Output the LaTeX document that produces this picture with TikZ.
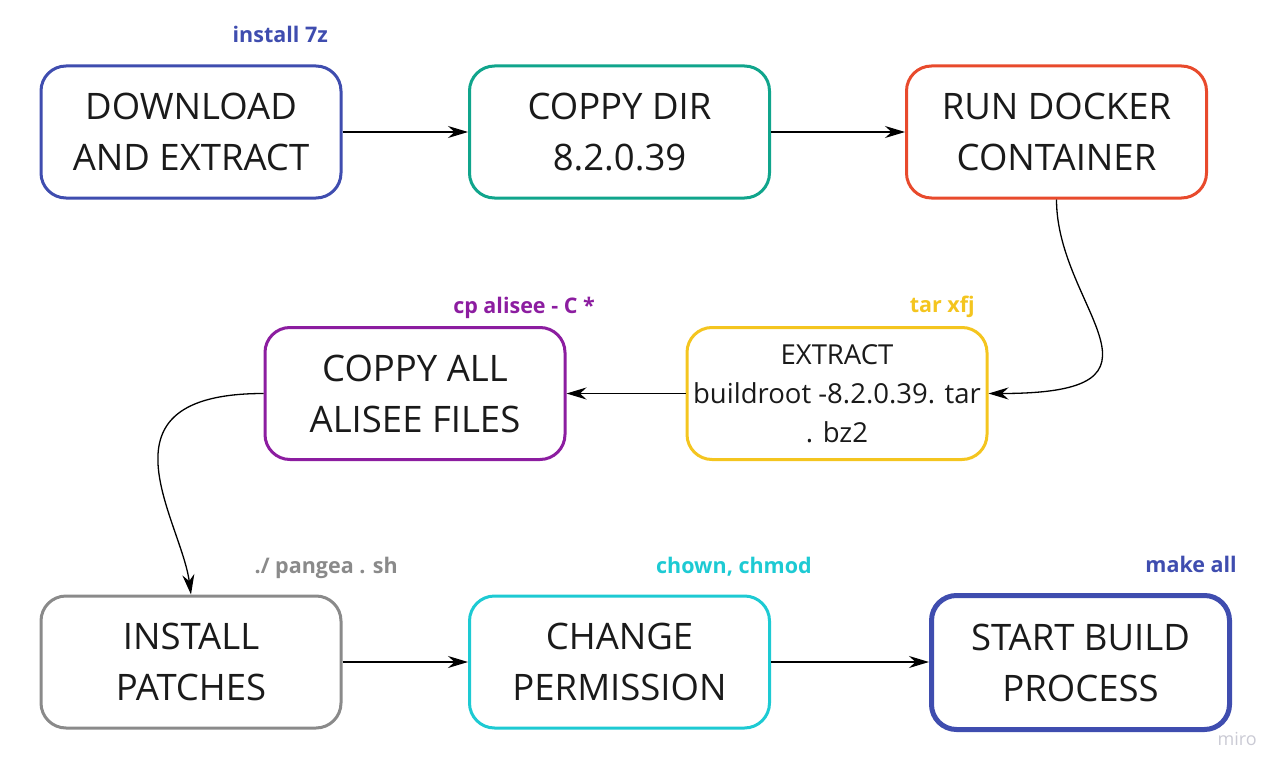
\documentclass[tikz,border=0pt]{standalone}
\usepackage{fontspec}
\setmainfont{Open Sans}
\usetikzlibrary{arrows.meta}
\definecolor{cblue}{HTML}{3F4DAF}
\definecolor{cteal}{HTML}{10A58C}
\definecolor{corange}{HTML}{E84A2C}
\definecolor{cpurple}{HTML}{8C1DA0}
\definecolor{cyellow}{HTML}{F4C51F}
\definecolor{cgrey}{HTML}{8A8A8A}
\definecolor{ccyan}{HTML}{1DCAD3}
\definecolor{cmiro}{HTML}{CACAD4}
\definecolor{ctext}{HTML}{1A1A1A}
\tikzset{
  box/.style={draw, line width=3pt, rounded corners=25pt, minimum width=300pt, minimum height=132pt,
    align=center, text=ctext, font=\fontsize{36.5}{51}\selectfont, inner sep=0pt},
  lbl/.style={anchor=base east, font=\fontsize{21.5}{24}\selectfont\bfseries, inner sep=0pt},
  conn/.style={line width=1.3pt, -{Stealth[length=20pt, width=12pt]}},
}
\begin{document}
\begin{tikzpicture}[x=1pt,y=-1pt]
\useasboundingbox (0,0) rectangle (1288,776);
\node[box, draw=cblue] (dl) at (191,132) {DOWNLOAD\\AND EXTRACT};
\node[box, draw=cteal] (cd) at (619.5,132) {COPPY DIR\\8.2.0.39};
\node[box, draw=corange] (rd) at (1056.5,132) {RUN DOCKER\\CONTAINER};
\node[box, draw=cpurple] (ca) at (415,393.5) {COPPY ALL\\ALISEE FILES};
\node[box, draw=cyellow, font=\fontsize{27.5}{39}\selectfont] (ex) at (837,393.5) {EXTRACT\\buildroot -8.2.0.39. tar\\. bz2};
\node[box, draw=cgrey] (ip) at (191,662) {INSTALL\\PATCHES};
\node[box, draw=ccyan] (cp) at (619.5,662) {CHANGE\\PERMISSION};
\node[box, draw=cblue, line width=5pt, minimum width=298pt, minimum height=134pt] (sb) at (1080.5,662.5) {START BUILD\\PROCESS};

\node[lbl, text=cblue] (l1) at (328,43) {install 7z};
\node[lbl, text=cyellow] (l2) at (975,312) {tar xfj};
\node[lbl, text=cpurple] (l3) at (595,313) {cp alisee - C *};
\node[lbl, text=cgrey] (l4) at (398,573) {./ pangea . sh};
\node[lbl, text=ccyan] (l5) at (812,573) {chown, chmod};
\node[lbl, text=cblue] (l6) at (1237,572) {make all};
\node[anchor=base east, inner sep=0pt, text=cmiro, font=\fontsize{18}{20}\selectfont] (miro) at (1257,745) {miro};

\draw[conn] (dl.east) -- (cd.west);
\draw[conn] (cd.east) -- (rd.west);
\draw[conn] (rd.south) .. controls +(0,110) and +(202,0) .. (ex.east);
\draw[conn] (ex.west) -- (ca.west -| ca.east);
\draw[conn] (ca.west) .. controls +(-174,0) and +(-10,-75) .. (ip.north);
\draw[conn] (ip.east) -- (cp.west);
\draw[conn] (cp.east) -- (cp.east -| sb.west);
\end{tikzpicture}
\end{document}
